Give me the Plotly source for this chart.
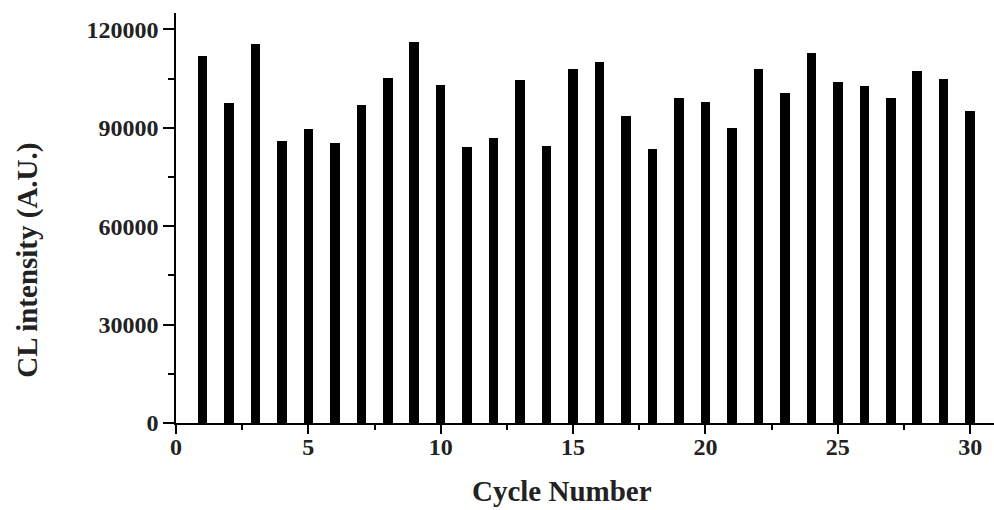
import plotly.graph_objects as go

# CL intensity measured over repeated cycles
cycles = list(range(1, 31))
intensity = [
    111800, 97600, 115400, 85900, 89700, 85400, 97100, 105300, 116100, 103200,
    84200, 87000, 104500, 84600, 108000, 110000, 93700, 83600, 99000, 97800,
    89800, 108000, 100500, 112700, 104000, 102600, 99200, 107300, 104800, 95200,
]

x_ticks = [0, 5, 10, 15, 20, 25, 30]
y_ticks = [0, 30000, 60000, 90000, 120000]

serif = "Liberation Serif"

fig = go.Figure(
    go.Bar(
        x=cycles,
        y=intensity,
        width=0.36,
        marker=dict(color="black", line=dict(width=0)),
    )
)

axis_common = dict(
    showline=True,
    linecolor="black",
    linewidth=1.5,
    ticks="outside",
    tickcolor="black",
    tickwidth=1.5,
    showgrid=False,
    zeroline=False,
    tickfont=dict(family=serif, size=24, color="#222", weight="bold"),
)

fig.update_xaxes(
    range=[0, 30.9],
    tickvals=x_ticks,
    ticktext=[str(v) for v in x_ticks],
    ticklen=9,
    ticklabelstandoff=-8,
    minor=dict(dtick=2.5, tick0=0, ticks="outside", ticklen=5, tickwidth=1.5, tickcolor="black"),
    **axis_common,
)
fig.update_yaxes(
    range=[0, 125000],
    tickvals=y_ticks,
    ticktext=[str(v) for v in y_ticks],
    ticklen=11,
    minor=dict(dtick=15000, tick0=0, ticks="outside", ticklen=6, tickwidth=1.5, tickcolor="black"),
    **axis_common,
)

fig.add_annotation(
    text="Cycle Number", xref="paper", yref="paper", x=0.472, y=-0.167,
    showarrow=False, xanchor="center", yanchor="middle",
    font=dict(family=serif, size=29, color="#222", weight="bold"),
)
fig.add_annotation(
    text="CL intensity (A.U.)", xref="paper", yref="paper", x=-0.181, y=0.398,
    showarrow=False, xanchor="center", yanchor="middle", textangle=-90,
    font=dict(family=serif, size=29, color="#222", weight="bold"),
)

fig.update_layout(
    width=994,
    height=510,
    margin=dict(l=176, r=0, t=13, b=87),
    plot_bgcolor="white",
    paper_bgcolor="white",
    showlegend=False,
    bargap=0,
)

fig.write_html("out.html")
